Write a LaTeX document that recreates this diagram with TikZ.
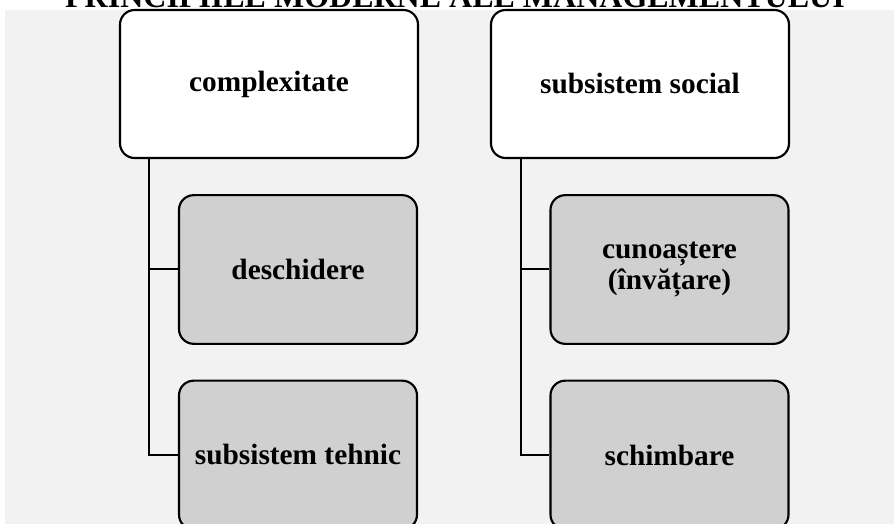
\documentclass[tikz,border=0pt]{standalone}
\usepackage{fontspec}
\setmainfont{Liberation Serif}
\definecolor{bggray}{HTML}{F2F2F2}
\definecolor{childgray}{HTML}{D0D0D0}
\tikzset{
  topbox/.style={draw=black, line width=1.6pt, rounded corners=11pt, fill=white,
    minimum width=223.5pt, minimum height=111pt, inner sep=0pt,
    font=\fontsize{22}{23}\selectfont\bfseries, align=center},
  childbox/.style={topbox, fill=childgray, minimum width=178.5pt, minimum height=111.5pt},
  link/.style={draw=black, line width=1.5pt},
  titletext/.style={font=\fontsize{24}{26}\selectfont\bfseries, anchor=base, inner sep=0pt}
}
\begin{document}
\begin{tikzpicture}[x=0.75pt,y=-0.75pt]
\useasboundingbox (0,0) rectangle (894,524);
\fill[white] (0,0) rectangle (894,524);
\fill[bggray] (5,10) rectangle (894,524);
\node[titletext] (title) at (455,8) {PRINCIPIILE MODERNE ALE MANAGEMENTULUI};
\node[topbox] (b1) at (269,84) {complexitate};
\node[topbox] (b2) at (640,84) {subsistem social};
\node[childbox] (c1) at (298,269.5) {deschidere};
\node[childbox] (c2) at (298,455) {subsistem tehnic};
\node[childbox] (c3) at (669.5,269.5) {cunoaștere\\(învățare)};
\node[childbox] (c4) at (669.5,455) {schimbare};
\draw[link] ([xshift=22.5pt]b1.south west) |- (c1.west);
\draw[link] ([xshift=22.5pt]b1.south west) |- (c2.west);
\draw[link] ([xshift=23.25pt]b2.south west) |- (c3.west);
\draw[link] ([xshift=23.25pt]b2.south west) |- (c4.west);
\end{tikzpicture}
\end{document}
